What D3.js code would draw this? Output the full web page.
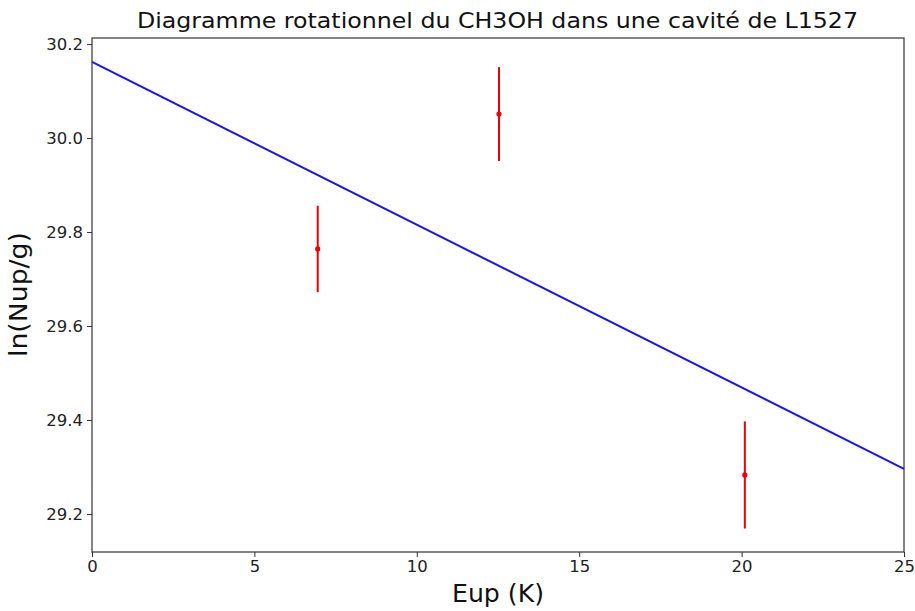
<!DOCTYPE html>
<meta charset="utf-8">
<script src="https://d3js.org/d3.v7.min.js"></script>
<style>
  body { margin: 0; background: #fff; }
  text { font-family: "DejaVu Sans", sans-serif; }
</style>
<div id="chart"></div>
<script>
    // data
    var eup = [6.95, 12.53, 20.1];
    var lnN = [29.764, 30.051, 29.283];
    var err = [0.092, 0.1, 0.114];
    // fitted line (ends at Eup = 0 and 25)
    var fitX = [0, 25];
    var fitY = [30.162, 29.296];
    var xTicks = [0, 5, 10, 15, 20, 25];
    var yTicks = [29.2, 29.4, 29.6, 29.8, 30.0, 30.2];

    var margin = { top: 38, right: 11, bottom: 59, left: 92 },
        width = 915 - margin.left - margin.right,
        height = 611 - margin.top - margin.bottom;

    var svg = d3.select("#chart").append("svg")
        .attr("width", 915).attr("height", 611);
    var g = svg.append("g")
        .attr("transform", "translate(" + margin.left + "," + margin.top + ")");

    var x = d3.scaleLinear().domain([0, 25]).range([0, width]);
    var y = d3.scaleLinear().domain([29.119, 30.213]).range([height, 0]);

    // axes
    var xAxis = g.append("g")
        .attr("transform", "translate(0," + height + ")")
        .call(d3.axisBottom(x).tickValues(xTicks).tickFormat(d3.format("d")).tickSize(5).tickPadding(3));
    var yAxis = g.append("g")
        .call(d3.axisLeft(y).tickValues(yTicks).tickFormat(d3.format(".1f")).tickSize(5).tickPadding(4));
    [xAxis, yAxis].forEach(function (a) {
        a.selectAll("text").style("font-size", "16.5px").attr("fill", "#222");
        a.select(".domain").remove();
        a.selectAll("line").attr("stroke", "#333");
    });

    // frame
    g.append("rect")
        .attr("width", width).attr("height", height)
        .attr("fill", "none").attr("stroke", "#333").attr("stroke-width", 1.2);

    // fit line
    g.append("line")
        .attr("x1", x(fitX[0])).attr("y1", y(fitY[0]))
        .attr("x2", x(fitX[1])).attr("y2", y(fitY[1]))
        .attr("stroke", "#1515f0").attr("stroke-width", 2);

    // error bars
    var pts = eup.map(function (d, i) { return { x: d, y: lnN[i], e: err[i] }; });
    g.selectAll(".eb").data(pts).enter().append("line")
        .attr("x1", function (d) { return x(d.x); })
        .attr("x2", function (d) { return x(d.x); })
        .attr("y1", function (d) { return y(d.y - d.e); })
        .attr("y2", function (d) { return y(d.y + d.e); })
        .attr("stroke", "#f00000").attr("stroke-width", 2);
    g.selectAll(".pt").data(pts).enter().append("circle")
        .attr("cx", function (d) { return x(d.x); })
        .attr("cy", function (d) { return y(d.y); })
        .attr("r", 2.6).attr("fill", "#f00000");

    // labels
    svg.append("text").attr("x", 497.5).attr("y", 28)
        .attr("text-anchor", "middle").style("font-size", "21px").attr("fill", "#111")
        .attr("textLength", 721).attr("lengthAdjust", "spacingAndGlyphs")
        .text("Diagramme rotationnel du CH3OH dans une cavité de L1527");
    svg.append("text").attr("x", 498).attr("y", 602)
        .attr("text-anchor", "middle").style("font-size", "24px").attr("fill", "#111")
        .attr("textLength", 92).attr("lengthAdjust", "spacingAndGlyphs")
        .text("Eup (K)");
    svg.append("text")
        .attr("transform", "translate(27,294.5) rotate(-90)")
        .attr("text-anchor", "middle").style("font-size", "24px").attr("fill", "#111")
        .attr("textLength", 125).attr("lengthAdjust", "spacingAndGlyphs")
        .text("ln(Nup/g)");
</script>
